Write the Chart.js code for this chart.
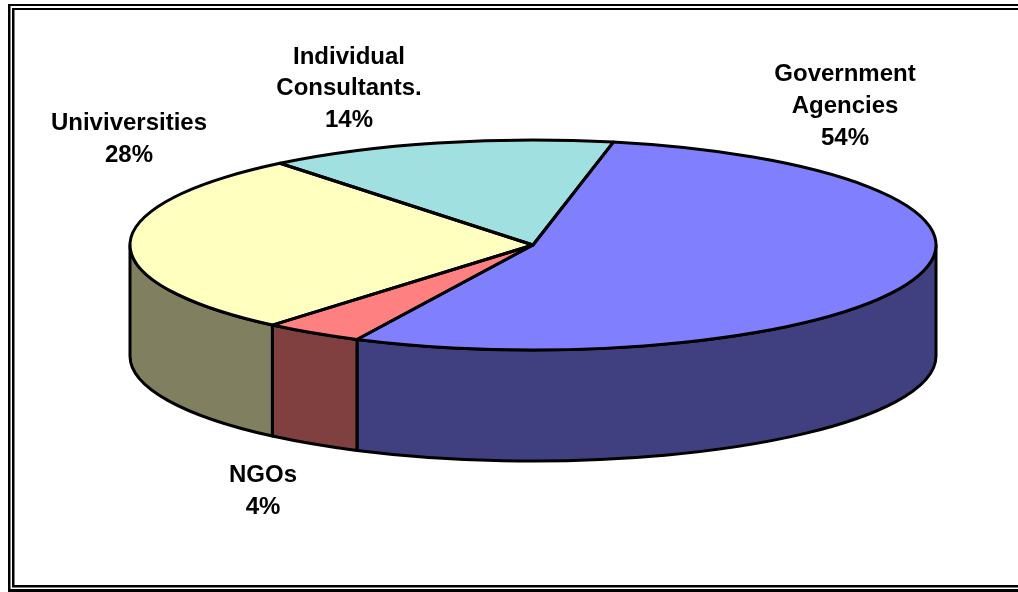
<!DOCTYPE html>
<html>
<head>
<meta charset="utf-8">
<style>
  html, body { margin: 0; padding: 0; background: #fff; overflow: hidden; }
  canvas { display: block; }
</style>
<script src="https://cdn.jsdelivr.net/npm/chart.js@4/dist/chart.umd.min.js"></script>
</head>
<body>
<canvas id="chart" width="1018" height="592"></canvas>
<script>
// Share of respondents by type of organisation
const categories = ['Government Agencies', 'NGOs', 'Univiversities', 'Individual Consultants.'];
const shares = [54, 4, 28, 14];
const topColours = ['#8080FF', '#FF8080', '#FFFFC0', '#A0E0E0'];
const sideColours = ['#404080', '#804040', '#808060', '#508080'];

// Disc geometry: the pie is squashed vertically and extruded downward
const CX = 533, CY = 245, RX = 403, RY = 105, DEPTH = 111, EDGE = 3;
const FIRST_SLICE_ANGLE = 11.5;

// Centre of the first line of each label, and the distance between lines
const labelAnchors = [[845, 74.5], [263, 475.5], [129, 123.5], [349, 57]];
const LINE_STEP = 31.8;

function visibleSpans(start, end) {
  // Portions of an angle range lying on the front half of the disc
  const spans = [];
  for (const k of [-2, 0, 2]) {
    const a = Math.max(start, k * Math.PI), b = Math.min(end, (k + 1) * Math.PI);
    if (b > a) spans.push([a, b]);
  }
  return spans;
}

const pie3d = {
  id: 'pie3d',
  beforeDraw(chart) {
    const c = chart.ctx;
    c.fillStyle = '#fff';
    c.fillRect(0, 0, 1018, 592);
    c.fillStyle = '#000';
    // Double frame around the chart, open on the right
    c.fillRect(8, 4, 1010, 2);
    c.fillRect(12, 8, 1006, 2);
    c.fillRect(8, 4, 2.5, 588);
    c.fillRect(12, 8, 2.5, 579);
    c.fillRect(12, 585, 1006, 2.5);
    c.fillRect(8, 589, 1010, 3);
  },
  beforeDatasetsDraw(chart) {
    const c = chart.ctx;
    const arcs = chart.getDatasetMeta(0).data;
    c.lineWidth = EDGE;
    c.lineJoin = 'round';
    c.strokeStyle = '#000';
    arcs.forEach((arc, i) => {
      for (const [a, b] of visibleSpans(arc.startAngle, arc.endAngle)) {
        c.beginPath();
        c.ellipse(CX, CY, RX, RY, 0, a, b);
        c.ellipse(CX, CY + DEPTH, RX, RY, 0, b, a, true);
        c.closePath();
        c.fillStyle = sideColours[i];
        c.fill();
        c.stroke();
      }
    });
    // Top face: the library's arcs are drawn through a vertical squash
    c.save();
    c.translate(CX, CY);
    c.scale(1, RY / RX);
    c.translate(-arcs[0].x, -arcs[0].y);
  },
  afterDatasetsDraw(chart) {
    const c = chart.ctx;
    c.restore();
    const arcs = chart.getDatasetMeta(0).data;
    c.lineWidth = EDGE;
    c.lineJoin = 'round';
    c.strokeStyle = '#000';
    arcs.forEach(arc => {
      c.beginPath();
      c.moveTo(CX, CY);
      c.ellipse(CX, CY, RX, RY, 0, arc.startAngle, arc.endAngle);
      c.closePath();
      c.stroke();
    });
    // Slice labels with percentages
    c.fillStyle = '#000';
    c.font = 'bold 24px "Liberation Sans", Arial, sans-serif';
    c.textAlign = 'center';
    c.textBaseline = 'middle';
    categories.forEach((name, i) => {
      const lines = name.split(' ').concat(shares[i] + '%');
      lines.forEach((line, n) => {
        c.fillText(line, labelAnchors[i][0], labelAnchors[i][1] + n * LINE_STEP);
      });
    });
  }
};

new Chart(document.getElementById('chart'), {
  type: 'pie',
  data: {
    labels: categories,
    datasets: [{
      data: shares,
      backgroundColor: topColours,
      borderWidth: 0,
      clip: false
    }]
  },
  options: {
    responsive: false,
    animation: false,
    radius: RX,
    rotation: FIRST_SLICE_ANGLE,
    plugins: { legend: { display: false }, tooltip: { enabled: false } }
  },
  plugins: [pie3d]
});
</script>
</body>
</html>
